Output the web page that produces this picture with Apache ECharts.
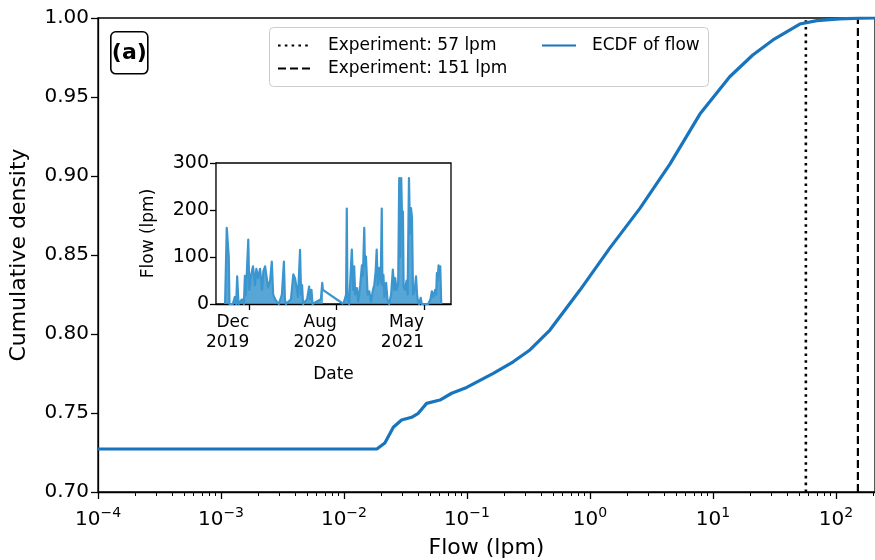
<!DOCTYPE html>
<html>
<head>
<meta charset="utf-8">
<script src="https://cdn.jsdelivr.net/npm/echarts@6/dist/echarts.min.js"></script>
<style>html,body{margin:0;padding:0;background:#fff}#c{width:875px;height:560px}</style>
</head>
<body>
<div id="c"></div>
<script>
// ---- main panel (a): ECDF of flow ----
const ecdfFlow = [1e-4, 0.0185, 0.0215, 0.0252, 0.0294, 0.0355, 0.0402, 0.047, 0.0603, 0.0751, 0.0995, 0.1637, 0.2377, 0.325, 0.473, 0.83, 1.455, 2.55, 4.47, 7.84, 13.7, 21.1, 30.8, 50.9, 70.1, 107, 157, 208];
const ecdfDensity = [0.7272, 0.7272, 0.731, 0.741, 0.7456, 0.7473, 0.7498, 0.7561, 0.7582, 0.7625, 0.7662, 0.7751, 0.7824, 0.7899, 0.8025, 0.8278, 0.8545, 0.8795, 0.9075, 0.9392, 0.9628, 0.9766, 0.9861, 0.9962, 0.9983, 0.9995, 0.9999, 1.0];
const experimentFlows = [57, 151];
const experimentNames = ['Experiment: 57 lpm', 'Experiment: 151 lpm'];
const densityRange = [0.70, 1.00];
const flowRange = [1e-4, 208];
const majorTicks = [1e-4, 1e-3, 1e-2, 1e-1, 1e0, 1e1, 1e2];

// ---- inset panel (b): flow time series (days relative to Dec 2019 tick) ----
const insetDay = [-72,-67,-61,-59,-49,-43,-39,-36,-32,-22,-16,-13,-10,-3,0,5,11,17,21,26,32,38,42,47,52,56,62,67,71,77,82,88,97,103,106,109,124,131,136,141,145,151,154,157,160,172,178,181,185,188,213,217,219,280,288,290,292,297,305,309,312,315,320,324,330,335,338,342,344,347,352,357,362,368,372,376,379,382,386,391,394,396,399,402,407,411,416,422,427,431,434,438,443,446,449,452,455,457,459,463,468,471,475,478,481,484,487,492,496,499,502,505,510,513,523,532,539,543,547,553,556,558,560,563,565,568,571];
const insetFlow = [0,162,100,0,0,15,0,59,0,10,0,60,20,137,30,60,80,40,75,55,75,30,70,80,82,35,50,90,20,10,5,0,20,90,10,0,10,63,55,57,15,115,20,40,0,10,37,10,30,0,10,45,30,0,20,203,10,0,116,30,80,20,34,5,40,82,60,162,80,101,20,27,5,30,41,70,116,40,77,45,203,40,62,15,45,10,0,20,73,30,55,30,45,268,100,268,160,197,40,30,50,20,268,150,204,183,20,30,59,20,5,0,13,0,0,0,10,27,15,30,20,66,50,82,60,80,0];
const insetTickDays = [0, 260, 520];
const insetTickLabels = ['Dec\n2019', 'Aug\n2020', 'May\n2021'];
const insetDayRange = [-99, 600];

const minorTicks = [];
for (let e = -4; e <= 2; e++) for (let m = 2; m <= 9; m++) { const v = m * Math.pow(10, e); if (v <= flowRange[1]) minorTicks.push(v); }

// split the inset record at its longest data gap (drawn as a bare connecting line)
let gapIdx = 0, gapLen = -1;
for (let i = 1; i < insetDay.length; i++) { const g = insetDay[i] - insetDay[i - 1]; if (g > gapLen) { gapLen = g; gapIdx = i; } }
const insetPts = insetDay.map((d, i) => [d, insetFlow[i]]);
const insetMain = insetPts.slice(0, gapIdx).concat([[null, null]]).concat(insetPts.slice(gapIdx));
const insetGap = insetPts.slice(gapIdx - 1, gapIdx + 1);

const FONT = 'DejaVu Sans';
const ecdfColor = '#1874bd';
const insetColor = '#3b96cf';

const chart = echarts.init(document.getElementById('c'), null, {renderer: 'canvas'});
const supFmt = v => {
  const e = Math.round(Math.log10(v));
  return '{b|10}{s|' + String(e).replace('-', '\u2212') + '}';
};
const legendCommon = {itemHeight: 14, itemWidth: 34, padding: 0, itemStyle: {opacity: 0, borderWidth: 0}, z: 10, selectedMode: false,
  textStyle: {fontSize: 17, color: '#000', fontFamily: FONT, padding: [0, 0, 0, 11]}};
const option = {
  backgroundColor: '#fff',
  animation: false,
  textStyle: {fontFamily: FONT},
  grid: [
    {left: 98, top: 18, width: 777, height: 474, show: true, borderColor: '#000', borderWidth: 1.3, containLabel: false, outerBoundsMode: 'none'},
    {left: 216, top: 163, width: 235, height: 141, show: true, backgroundColor: '#fff', borderColor: '#000', borderWidth: 1.3, containLabel: false, outerBoundsMode: 'none', z: 3}
  ],
  xAxis: [
    {type: 'log', gridIndex: 0, logBase: 10, min: flowRange[0], max: flowRange[1],
     axisLine: {show: true, onZero: false, lineStyle: {color: '#000', width: 1.3}},
     axisTick: {show: true, length: 7, lineStyle: {color: '#000', width: 1.3}, customValues: majorTicks},
     axisLabel: {show: true, customValues: majorTicks, margin: 14, formatter: supFmt, color: '#000',
       rich: {b: {fontSize: 20, fontFamily: FONT, color: '#000', verticalAlign: 'bottom'},
              s: {fontSize: 14, fontFamily: FONT, color: '#000', verticalAlign: 'bottom', padding: [0, 0, 10, 0]}}},
     splitLine: {show: false}, minorTick: {show: false},
     name: 'Flow (lpm)', nameLocation: 'middle', nameGap: 45,
     nameTextStyle: {fontSize: 22, color: '#000', fontFamily: FONT}},
    {type: 'value', gridIndex: 0, min: Math.log10(flowRange[0]), max: Math.log10(flowRange[1]), position: 'bottom',
     axisLine: {show: false, onZero: false},
     axisTick: {show: true, length: 4, lineStyle: {color: '#000', width: 1}, customValues: minorTicks.map(Math.log10)},
     axisLabel: {show: false}, splitLine: {show: false}},
    {type: 'value', gridIndex: 1, min: insetDayRange[0], max: insetDayRange[1],
     axisLine: {show: true, onZero: false, lineStyle: {color: '#000', width: 1.3}},
     axisTick: {show: true, length: 6, lineStyle: {color: '#000', width: 1.3}, customValues: insetTickDays},
     axisLabel: {show: true, customValues: insetTickDays, margin: 9, align: 'right', fontSize: 17, color: '#000', fontFamily: FONT, lineHeight: 20,
       formatter: v => insetTickLabels[insetTickDays.indexOf(Math.round(v))] || ''},
     splitLine: {show: false},
     name: 'Date', nameLocation: 'middle', nameGap: 62,
     nameTextStyle: {fontSize: 17, color: '#000', fontFamily: FONT}}
  ],
  yAxis: [
    {type: 'value', gridIndex: 0, min: densityRange[0], max: densityRange[1], interval: 0.05,
     axisLine: {show: true, onZero: false, lineStyle: {color: '#000', width: 1.3}},
     axisTick: {show: true, length: 7, lineStyle: {color: '#000', width: 1.3}},
     axisLabel: {fontSize: 20, color: '#000', fontFamily: FONT, margin: 9, formatter: v => v.toFixed(2)},
     splitLine: {show: false},
     name: 'Cumulative density', nameLocation: 'middle', nameGap: 68,
     nameTextStyle: {fontSize: 22, color: '#000', fontFamily: FONT}},
    {type: 'value', gridIndex: 1, min: 0, max: 300, interval: 100,
     axisLine: {show: true, onZero: false, lineStyle: {color: '#000', width: 1.3}},
     axisTick: {show: true, length: 6, lineStyle: {color: '#000', width: 1.3}},
     axisLabel: {fontSize: 19, color: '#000', fontFamily: FONT, margin: 7},
     splitLine: {show: false},
     name: 'Flow (lpm)', nameLocation: 'middle', nameGap: 59,
     nameTextStyle: {fontSize: 17, color: '#000', fontFamily: FONT}}
  ],
  legend: [
    Object.assign({data: experimentNames, orient: 'vertical', left: 277, top: 37, itemGap: 6}, legendCommon),
    Object.assign({data: ['ECDF of flow'], orient: 'vertical', left: 541, top: 37}, legendCommon)
  ],
  graphic: [
    {type: 'rect', left: 269, top: 27, shape: {width: 439, height: 59, r: 4}, style: {fill: 'rgba(255,255,255,0.8)', stroke: '#cccccc', lineWidth: 1}, z: 5},
    {type: 'group', left: 110, top: 31, z: 20, children: [
      {type: 'rect', shape: {x: 0, y: 0, width: 37, height: 42, r: 5}, style: {fill: '#fff', stroke: '#000', lineWidth: 1.6}},
      {type: 'text', x: 18.5, y: 21, style: {text: '(a)', font: 'bold 22px "DejaVu Sans"', fill: '#000', align: 'center', verticalAlign: 'middle'}}
    ]},
    {type: 'group', left: 228, top: 173, z: 20, children: [
      {type: 'rect', shape: {x: 0, y: 0, width: 37, height: 41, r: 5}, style: {fill: '#fff', stroke: '#000', lineWidth: 1.6}},
      {type: 'text', x: 18.5, y: 20.5, style: {text: '(b)', font: 'bold 22px "DejaVu Sans"', fill: '#000', align: 'center', verticalAlign: 'middle'}}
    ]}
  ],
  series: [
    {name: experimentNames[0], type: 'line', xAxisIndex: 0, yAxisIndex: 0, symbol: 'none', z: 3,
     data: densityRange.map(d => [experimentFlows[0], d]),
     lineStyle: {color: '#000', width: 2.6, type: [2.6, 4.2], cap: 'butt'}, itemStyle: {color: '#000'}},
    {name: experimentNames[1], type: 'line', xAxisIndex: 0, yAxisIndex: 0, symbol: 'none', z: 3,
     data: densityRange.map(d => [experimentFlows[1], d]),
     lineStyle: {color: '#000', width: 2.2, type: [8, 4], cap: 'butt'}, itemStyle: {color: '#000'}},
    {name: 'ECDF of flow', type: 'line', xAxisIndex: 0, yAxisIndex: 0, symbol: 'none', z: 4,
     data: ecdfFlow.map((f, i) => [f, ecdfDensity[i]]),
     lineStyle: {color: ecdfColor, width: 3.2, join: 'round'}, itemStyle: {color: ecdfColor}},
    {name: 'Flow', type: 'line', xAxisIndex: 2, yAxisIndex: 1, symbol: 'none', z: 6, connectNulls: false,
     data: insetMain,
     areaStyle: {color: insetColor, opacity: 0.85},
     lineStyle: {color: insetColor, width: 2.2, join: 'round'}, itemStyle: {color: insetColor}},
    {name: 'Flow gap', type: 'line', xAxisIndex: 2, yAxisIndex: 1, symbol: 'none', z: 6,
     data: insetGap,
     lineStyle: {color: insetColor, width: 2.2}, itemStyle: {color: insetColor}}
  ]
};
chart.setOption(option);
</script>
</body>
</html>
